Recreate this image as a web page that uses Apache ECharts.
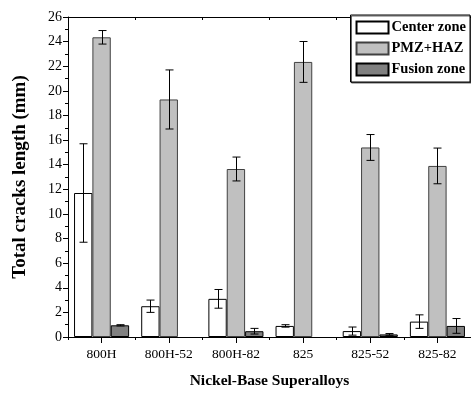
<!DOCTYPE html>
<html>
<head>
<meta charset="utf-8">
<script src="https://cdn.jsdelivr.net/npm/echarts@6/dist/echarts.min.js"></script>
<style>
  html, body { margin: 0; padding: 0; background: #fff; }
  #chart { width: 471px; height: 394px; }
</style>
</head>
<body>
<div id="chart"></div>
<script>
// Alloy categories along the x axis
var alloys = ['800H', '800H-52', '800H-82', '825', '825-52', '825-82'];

// Mean total crack length (mm) per zone; null = no cracking measured
var centerZone = [11.7, 2.5, 3.1, 0.9, 0.48, 1.25];
var pmzHaz     = [24.35, 19.3, 13.65, 22.35, 15.4, 13.9];
var fusionZone = [0.95, null, 0.47, null, 0.21, 0.9];

// Half-width of the error bars (mm)
var centerErr = [4.0, 0.5, 0.76, 0.1, 0.33, 0.55];
var pmzErr    = [0.55, 2.4, 0.97, 1.66, 1.05, 1.45];
var fusionErr = [0.05, null, 0.23, null, 0.07, 0.6];

var seriesNames = ['Center zone', 'PMZ+HAZ', 'Fusion zone'];
var yTicks = { min: 0, max: 26, interval: 2 };

var FONT = '"Liberation Serif", "Times New Roman", serif';
var CAT_GAP = 0.18;

function errorSeries(values, errs, idx) {
  var data = [];
  for (var i = 0; i < values.length; i++) {
    if (values[i] == null) continue;
    data.push([i, values[i] - errs[i], values[i] + errs[i]]);
  }
  return {
    type: 'custom',
    name: seriesNames[idx] + ' error',
    silent: true,
    z: 5,
    data: data,
    renderItem: function (params, api) {
      var cat = api.value(0);
      var lo = api.coord([cat, api.value(1)]);
      var hi = api.coord([cat, api.value(2)]);
      var band = api.size([1, 0])[0];
      var group = band * (1 - CAT_GAP);
      var bw = group / 3;
      var x = Math.round(lo[0] - group / 2 + bw * (idx + 0.5)) + 0.5;
      var cap = 4;
      var style = { stroke: '#000', lineWidth: 1, fill: null };
      return {
        type: 'group',
        children: [
          { type: 'line', shape: { x1: x, y1: hi[1], x2: x, y2: lo[1] }, style: style },
          { type: 'line', shape: { x1: x - cap, y1: hi[1], x2: x + cap, y2: hi[1] }, style: style },
          { type: 'line', shape: { x1: x - cap, y1: lo[1], x2: x + cap, y2: lo[1] }, style: style }
        ]
      };
    }
  };
}

function barSeries(name, values, fill, border) {
  return {
    type: 'bar',
    name: name,
    data: values,
    barGap: '0%',
    barCategoryGap: (CAT_GAP * 100) + '%',
    itemStyle: { color: fill, borderColor: border, borderWidth: 1 },
    emphasis: { disabled: true }
  };
}

var chart = echarts.init(document.getElementById('chart'), null, { renderer: 'canvas' });

chart.setOption({
  animation: false,
  backgroundColor: '#fff',
  textStyle: { fontFamily: FONT },
  grid: { left: 68, top: 17, width: 404, height: 323 },
  legend: {
    data: seriesNames,
    orient: 'vertical',
    right: 1,
    top: 15,
    icon: 'rect',
    itemWidth: 32,
    itemHeight: 12,
    itemGap: 6,
    padding: [5, 4, 5, 5],
    backgroundColor: '#fff',
    borderColor: '#000',
    borderWidth: 1,
    shadowColor: 'rgba(0,0,0,0.6)',
    shadowOffsetX: 1,
    shadowOffsetY: 1,
    textStyle: { fontFamily: FONT, fontWeight: 'bold', fontSize: 14.5, color: '#000', padding: [0, 0, 0, -2] },
    selectedMode: false
  },
  xAxis: [
    {
      type: 'category',
      data: alloys,
      position: 'bottom',
      name: 'Nickel-Base Superalloys',
      nameLocation: 'middle',
      nameGap: 36,
      nameTextStyle: { fontFamily: FONT, fontWeight: 'bold', fontSize: 15.5, color: '#000' },
      axisLine: { show: true, lineStyle: { color: '#000', width: 1 } },
      axisTick: { show: true, alignWithLabel: true, length: 6, lineStyle: { color: '#000' } },
      axisLabel: { fontFamily: FONT, fontSize: 13.5, color: '#000', margin: 10 },
      splitLine: { show: false }
    },
    {
      // short ticks between categories
      type: 'category',
      data: alloys,
      position: 'bottom',
      axisLine: { show: false },
      axisTick: { show: true, length: 3, lineStyle: { color: '#000' } },
      axisLabel: { show: false },
      splitLine: { show: false }
    },
    {
      // frame along the top
      type: 'category',
      data: alloys,
      position: 'top',
      axisLine: { show: true, lineStyle: { color: '#000', width: 1 } },
      axisTick: { show: true, inside: true, length: 3, lineStyle: { color: '#000' } },
      axisLabel: { show: false },
      splitLine: { show: false }
    }
  ],
  yAxis: {
    type: 'value',
    min: yTicks.min,
    max: yTicks.max,
    interval: yTicks.interval,
    name: 'Total cracks length (mm)',
    nameLocation: 'middle',
    nameGap: 38,
    nameTextStyle: { fontFamily: FONT, fontWeight: 'bold', fontSize: 19, color: '#000' },
    axisLine: { show: true, lineStyle: { color: '#000', width: 1 } },
    axisTick: { show: true, length: 5, lineStyle: { color: '#000' } },
    minorTick: { show: true, splitNumber: 2, length: 3, lineStyle: { color: '#000' } },
    axisLabel: { fontFamily: FONT, fontSize: 14, color: '#000', margin: 6 },
    splitLine: { show: false }
  },
  series: [
    barSeries(seriesNames[0], centerZone, '#ffffff', '#000000'),
    barSeries(seriesNames[1], pmzHaz, '#c0c0c0', '#404040'),
    barSeries(seriesNames[2], fusionZone, '#808080', '#000000'),
    errorSeries(centerZone, centerErr, 0),
    errorSeries(pmzHaz, pmzErr, 1),
    errorSeries(fusionZone, fusionErr, 2)
  ]
});
</script>
</body>
</html>
